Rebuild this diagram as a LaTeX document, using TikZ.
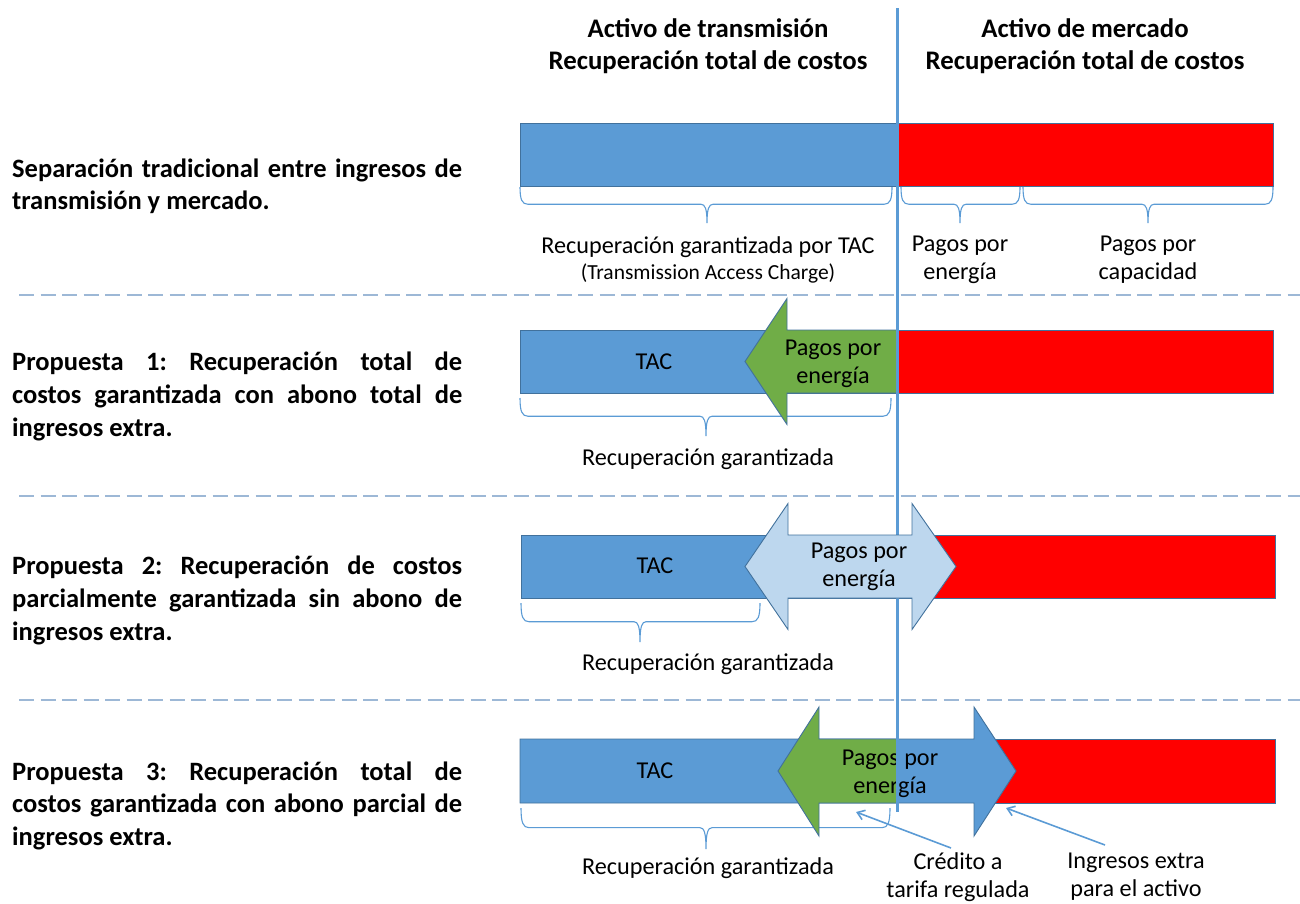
\documentclass[tikz,border=0pt]{standalone}
\usepackage{fontspec}
\setmainfont{Carlito}
\usetikzlibrary{arrows.meta}
\frenchspacing

\definecolor{barblue}{HTML}{5B9BD5}
\definecolor{edgeblue}{HTML}{41719C}
\definecolor{barred}{HTML}{FF0000}
\definecolor{arrgreen}{HTML}{70AD47}
\definecolor{paleblue}{HTML}{BDD7EE}
\definecolor{sepblue}{HTML}{9DB8D6}

% curly brace hanging below a bar: x-left, x-right, x-tip, y-top, depth
\newcommand{\hangbrace}[5]{%
  \draw[bracestyle]
    (#1,#4) .. controls (#1,#4+0.35*#5) and (#1+2,#4+0.48*#5) .. (#1+8,#4+0.48*#5)
    -- (#3-6,#4+0.48*#5) .. controls (#3-2,#4+0.48*#5) and (#3,#4+0.6*#5) .. (#3,#4+#5)
    .. controls (#3,#4+0.6*#5) and (#3+2,#4+0.48*#5) .. (#3+6,#4+0.48*#5)
    -- (#2-8,#4+0.48*#5) .. controls (#2-2,#4+0.48*#5) and (#2,#4+0.35*#5) .. (#2,#4);}

\tikzset{
  bluebar/.style={fill=barblue, draw=edgeblue, line width=0.9pt},
  redbar/.style={fill=barred, draw=edgeblue, line width=0.9pt},
  greenarrow/.style={fill=arrgreen, draw=edgeblue, line width=0.9pt, line join=miter},
  palearrow/.style={fill=paleblue, draw=edgeblue, line width=0.9pt, line join=miter},
  bluearrow/.style={fill=barblue, draw=edgeblue, line width=0.9pt, line join=miter},
  bracestyle/.style={draw=barblue, line width=1.1pt},
  divider/.style={draw=barblue, line width=3pt},
  separator/.style={draw=sepblue, line width=2.6pt, dash pattern=on 15pt off 6.5pt},
  pointer/.style={draw=barblue, line width=1.6pt, -{Straight Barb[length=7pt,width=10pt]}},
  heading/.style={font=\fontsize{26.8}{32}\selectfont\bfseries, align=center, inner sep=0pt},
  lbl/.style={font=\fontsize{24.2}{28}\selectfont, align=center, inner sep=0pt},
  small/.style={font=\fontsize{21.5}{24}\selectfont, inner sep=0pt},
  side/.style={font=\fontsize{26.5}{30}\selectfont\bfseries, anchor=base west, inner sep=0pt},
}

\begin{document}
\begin{tikzpicture}[x=1pt, y=-1pt]
\useasboundingbox (0,0) rectangle (1300,903);

% column headings
\node[heading] (headT) at (708,46) {Activo de transmisión\\Recuperación total de costos};
\node[heading] (headM) at (1085,46) {Activo de mercado\\Recuperación total de costos};

% row separators
\draw[separator] (19,295) -- (1300,295);
\draw[separator] (19,496) -- (1300,496);
\draw[separator] (19,700) -- (1300,700);

% ---------- row 1: traditional split ----------
\node[side] (r1a) at (12,177) {\makebox[450pt][s]{Separación tradicional entre ingresos de}};
\node[side] (r1b) at (12,209) {transmisión y mercado.};
\draw[bluebar] (520,123) rectangle (897,186);
\draw[redbar] (897,123) rectangle (1273,186);
\hangbrace{520}{892}{707}{187}{36}
\hangbrace{901}{1020}{960}{187}{36}
\hangbrace{1023}{1273}{1148}{187}{36}
\node[lbl] (tacfull) at (708,247) {Recuperación garantizada por TAC};
\node[small] (tacname) at (708,273) {(Transmission Access Charge)};
\node[lbl] (energy1) at (960,260) {Pagos por\\energía};
\node[lbl] (capac1) at (1148,260) {Pagos por\\capacidad};

% ---------- row 2: proposal 1 ----------
\node[side] (r2a) at (12,370) {\makebox[450pt][s]{Propuesta 1: Recuperación total de}};
\node[side] (r2b) at (12,403) {\makebox[450pt][s]{costos garantizada con abono total de}};
\node[side] (r2c) at (12,436) {ingresos extra.};
\draw[bluebar] (520,330) rectangle (897,393);
\draw[redbar] (897,330) rectangle (1273,393);
\hangbrace{520}{891}{706}{398}{38}
\draw[greenarrow] (745,361.5) -- (787,298.5) -- (787,330) -- (897,330) -- (897,393) -- (787,393) -- (787,424.5) -- cycle;
\node[lbl] (tac2) at (654,362) {TAC};
\node[lbl] (energy2) at (833,364) {Pagos por\\energía};
\node[lbl] (guar2) at (708,459) {Recuperación garantizada};

% ---------- row 3: proposal 2 ----------
\node[side] (r3a) at (12,574) {\makebox[450pt][s]{Propuesta 2: Recuperación de costos}};
\node[side] (r3b) at (12,607) {\makebox[450pt][s]{parcialmente garantizada sin abono de}};
\node[side] (r3c) at (12,640) {ingresos extra.};
\draw[bluebar] (521,535) rectangle (897,598);
\draw[redbar] (897,535) rectangle (1275,598);
\hangbrace{521}{760}{640}{603}{39}
\node[lbl] (guar3) at (708,664) {Recuperación garantizada};

% ---------- row 4: proposal 3 ----------
\node[side] (r4a) at (12,780) {\makebox[450pt][s]{Propuesta 3: Recuperación total de}};
\node[side] (r4b) at (12,812) {\makebox[450pt][s]{costos garantizada con abono parcial de}};
\node[side] (r4c) at (12,845) {ingresos extra.};
\draw[redbar] (974,739) rectangle (1275,803);
\hangbrace{521}{890}{706}{808}{41}
\draw[bluearrow] (520,739) -- (974,739) -- (974,707) -- (1016,771) -- (974,836) -- (974,803) -- (520,803) -- cycle;
\draw[greenarrow] (778,771) -- (819,707) -- (819,739) -- (897,739) -- (897,803) -- (819,803) -- (819,836) -- cycle;
\node[lbl] (tac4) at (655,771) {TAC};
\node[lbl] (energy4) at (890,774) {Pagos por\\energía};
\node[lbl] (guar4) at (708,868) {Recuperación garantizada};
\node[lbl] (credit) at (958,877) {Crédito a\\tarifa regulada};
\node[lbl] (extra) at (1136,877) {Ingresos extra\\para el activo};
\coordinate (creditfrom) at (951,848);
\coordinate (creditto) at (856,812);
\coordinate (extrafrom) at (1105,845);
\coordinate (extrato) at (1006,808);
\draw[pointer] (creditfrom) -- (creditto);
\draw[pointer] (extrafrom) -- (extrato);

% divider between the two asset columns
\coordinate (divtop) at (897,8);
\coordinate (divbot) at (897,812);
\draw[divider] (divtop) -- (divbot);

% proposal 2 double arrow sits over the divider
\draw[palearrow] (745,566.5) -- (788,503.5) -- (788,535) -- (912,535) -- (912,503.5) -- (956,566.5) -- (912,629.5) -- (912,598) -- (788,598) -- (788,629.5) -- cycle;
\node[lbl] (tac3) at (655,566) {TAC};
\node[lbl] (energy3) at (859,567) {Pagos por\\energía};
\end{tikzpicture}
\end{document}
